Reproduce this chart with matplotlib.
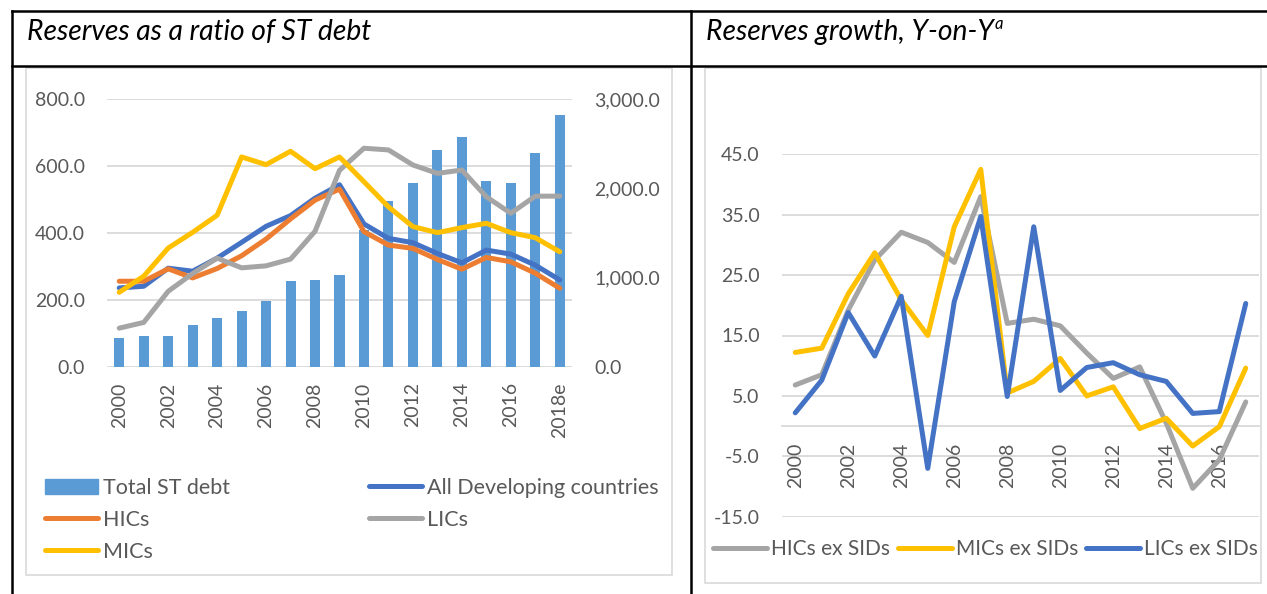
import matplotlib
matplotlib.use("Agg")
import matplotlib.pyplot as plt
from matplotlib.lines import Line2D
from matplotlib.patches import Rectangle, Patch
import numpy as np

plt.rcParams["font.family"] = ["Lato", "DejaVu Sans"]

W, H = 1267, 594

# left panel: reserves as a ratio of ST debt
years_l = [str(y) for y in range(2000, 2018)] + ["2018e"]
st_debt = [328, 350, 344, 470, 552, 631, 742, 963, 978, 1034,
           1530, 1859, 2057, 2430, 2572, 2083, 2057, 2400, 2822]
all_dev = [236, 241, 295, 286, 325, 372, 420, 452, 504, 544,
           427, 384, 371, 339, 311, 349, 337, 304, 260]
hics = [256, 256, 293, 266, 294, 332, 382, 442, 498, 531,
        404, 364, 354, 321, 292, 327, 314, 280, 235]
lics = [116, 133, 226, 279, 325, 296, 302, 322, 405, 587,
        653, 648, 603, 578, 588, 508, 459, 510, 510]
mics = [223, 271, 355, 402, 453, 627, 604, 644, 592, 627,
        553, 478, 419, 401, 416, 429, 401, 386, 344]

# right panel: reserves growth, y-on-y
years_r = [str(y) for y in range(2000, 2018)]
hics_ex = [6.8, 8.5, 19.2, 27.5, 32.1, 30.4, 27.1, 38.0, 17.0, 17.7,
           16.6, 12.1, 7.9, 9.8, 0.5, -10.3, -5.6, 4.0]
mics_ex = [12.2, 12.9, 21.9, 28.7, 20.9, 15.0, 33.0, 42.5, 5.5, 7.4,
           11.2, 5.0, 6.5, -0.4, 1.3, -3.3, -0.1, 9.6]
lics_ex = [2.2, 7.6, 18.8, 11.6, 21.5, -7.0, 20.6, 34.7, 4.9, 33.0,
           5.9, 9.7, 10.5, 8.5, 7.4, 2.1, 2.4, 20.3]

BAR = "#5B9BD5"
BLUE = "#4472C4"
ORANGE = "#ED7D31"
GRAY = "#A5A5A5"
YELLOW = "#FFC000"
TXT = "#595959"
GRID = "#D9D9D9"
FS = 14
LFS = 15.5
LW = 3.6


def fx(px):
    return px / W


def fy(py):
    return 1 - py / H


fig = plt.figure(figsize=(W / 100, H / 100), dpi=100)

# table lines and chart frames
for (xa, ya, xb, yb) in [(12, 11, W, 11), (12, 66, W, 66), (12, 11, 12, H), (691, 11, 691, H)]:
    fig.add_artist(Line2D([fx(xa), fx(xb)], [fy(ya), fy(yb)], color="black", lw=1.8))
for (x0, y0, x1, y1) in [(26, 68, 672, 575), (705, 68, 1261, 583)]:
    fig.add_artist(Rectangle((fx(x0), fy(y1)), fx(x1) - fx(x0), fy(y0) - fy(y1),
                             fill=False, edgecolor=GRID, lw=1.2))

fig.text(fx(27), fy(32), "Reserves as a ratio of ST debt", fontsize=20.3,
         style="italic", va="center", ha="left", color="black")
t2 = fig.text(fx(706), fy(32), "Reserves growth, Y-on-Y", fontsize=20.3,
              style="italic", va="center", ha="left", color="black")
fig.canvas.draw()
ext = t2.get_window_extent()
fig.text(ext.x1 / W + 0.0008, fy(24), "a", fontsize=12, style="italic",
         va="center", ha="left", color="black")

# ---- left chart
axb = fig.add_axes([fx(107), fy(367), fx(572) - fx(107), fy(99) - fy(367)])
axl = axb.twinx()
x = np.arange(len(years_l))
axb.bar(x, st_debt, width=0.41, color=BAR, zorder=2)
axb.set_ylim(0, 3000)
axb.set_xlim(-0.5, len(years_l) - 0.5)
left_ticks = [0, 200, 400, 600, 800]
for v in left_ticks:
    axb.axhline(v * 3000 / 800, color=GRID, lw=1.3, zorder=1)
axb.set_yticks([0, 1000, 2000, 3000])
axb.set_yticklabels([f"{v:,.1f}" for v in [0, 1000, 2000, 3000]])
axb.set_xticks(x[::2])
axb.set_xticklabels(years_l[::2], rotation=90)

axl.set_ylim(0, 800)
axl.set_yticks(left_ticks)
axl.set_yticklabels([f"{v:,.1f}" for v in left_ticks])
for ser, col in [(all_dev, BLUE), (hics, ORANGE), (lics, GRAY), (mics, YELLOW)]:
    axl.plot(x, ser, color=col, lw=LW, solid_capstyle="round", solid_joinstyle="round")

axb.yaxis.tick_right()
axl.yaxis.tick_left()
for a in (axb, axl):
    for s in a.spines.values():
        s.set_visible(False)
    a.tick_params(length=0, labelsize=FS, labelcolor=TXT)
    a.patch.set_visible(False)
axb.tick_params(axis="y", pad=16)
axl.tick_params(axis="y", pad=16)
axb.tick_params(axis="x", pad=11)

handles = [Patch(color=BAR), Line2D([], [], color=ORANGE, lw=LW, solid_capstyle="round"),
           Line2D([], [], color=YELLOW, lw=LW, solid_capstyle="round"),
           Line2D([], [], color=BLUE, lw=LW, solid_capstyle="round"),
           Line2D([], [], color=GRAY, lw=LW, solid_capstyle="round")]
labels = ["Total ST debt", "HICs", "MICs", "All Developing countries", "LICs"]
fig.legend(handles, labels, ncol=2, loc="upper left", bbox_to_anchor=(fx(45), fy(478)),
           frameon=False, fontsize=LFS, labelcolor=TXT, handlelength=2.45,
           handletextpad=0.25, columnspacing=6.45, labelspacing=0.55, borderpad=0,
           borderaxespad=0)

# ---- right chart
ax = fig.add_axes([fx(782), fy(516.7), fx(1259) - fx(782), fy(154.3) - fy(516.7)])
xr = np.arange(len(years_r))
ax.set_xlim(-0.5, len(years_r) - 0.5)
ax.set_ylim(-15, 45)
rticks = [-15, -5, 5, 15, 25, 35, 45]
for v in rticks:
    ax.axhline(v, color=GRID, lw=1.3, zorder=1)
ax.set_yticks(rticks)
ax.set_yticklabels([f"{v:.1f}" for v in rticks])
for ser, col in [(hics_ex, GRAY), (mics_ex, YELLOW), (lics_ex, BLUE)]:
    ax.plot(xr, ser, color=col, lw=LW, solid_capstyle="round", solid_joinstyle="round", zorder=3)
for s in ["top", "left", "right"]:
    ax.spines[s].set_visible(False)
ax.spines["bottom"].set_position(("data", 0))
ax.spines["bottom"].set_color(GRID)
ax.spines["bottom"].set_linewidth(1.3)
ax.set_xticks(xr[::2])
ax.set_xticklabels(years_r[::2], rotation=90)
ax.tick_params(length=0, labelsize=FS, labelcolor=TXT)
ax.tick_params(axis="y", pad=16)
ax.tick_params(axis="x", pad=12)

rh = [Line2D([], [], color=c, lw=LW, solid_capstyle="round") for c in (GRAY, YELLOW, BLUE)]
fig.legend(rh, ["HICs ex SIDs", "MICs ex SIDs", "LICs ex SIDs"], ncol=3, loc="center left",
           bbox_to_anchor=(fx(713), fy(549)), frameon=False, fontsize=15, labelcolor=TXT,
           handlelength=2.6, handletextpad=0.2, columnspacing=0.35, borderpad=0,
           borderaxespad=0)

fig.savefig("out.png", dpi=100)
